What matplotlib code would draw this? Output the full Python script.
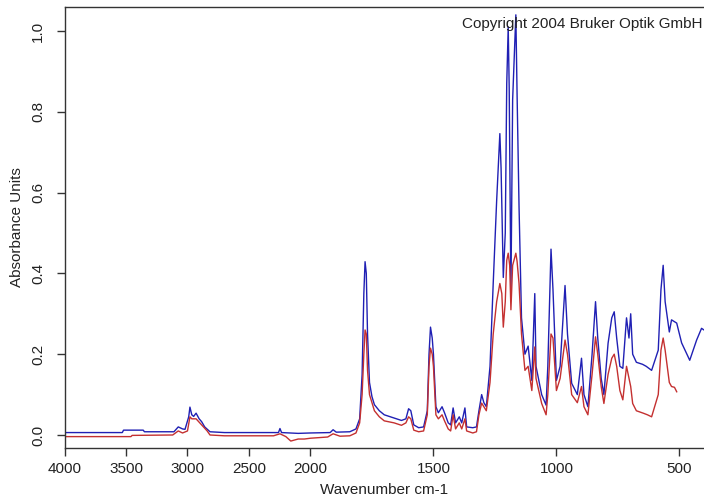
import numpy as np
import matplotlib
matplotlib.use('Agg')
import matplotlib.pyplot as plt

plt.rcParams['font.family'] = ['Liberation Sans', 'DejaVu Sans']

# spectrum 1 (blue), wavenumber cm-1 and absorbance
wn_blue = [4000, 3530, 3520, 3360, 3350, 3110, 3075, 3040, 3020, 2990, 2980,
           2965, 2950, 2930, 2905, 2885, 2860, 2817, 2700, 2500, 2260, 2248,
           2235, 2100, 2000, 1920, 1908, 1895, 1840, 1815, 1800, 1790, 1783,
           1778, 1773, 1768, 1760, 1750, 1740, 1720, 1700, 1660, 1630, 1612,
           1601, 1592, 1580, 1560, 1540, 1525, 1518, 1512, 1505, 1500, 1490,
           1480, 1465, 1455, 1440, 1430, 1420, 1410, 1395, 1385, 1372, 1365,
           1340, 1325, 1315, 1304, 1295, 1285, 1270, 1257, 1243, 1230, 1225,
           1216, 1208, 1202, 1196, 1192, 1185, 1178, 1165, 1160, 1152, 1142,
           1128, 1115, 1100, 1088, 1083, 1060, 1042, 1035, 1022, 1014, 1000,
           985, 965, 955, 938, 915, 898, 888, 872, 855, 841, 832, 818, 807,
           790, 775, 765, 755, 742, 730, 715, 705, 698, 690, 675, 650, 635,
           613, 586, 575, 566, 558, 541, 532, 511, 491, 458, 430, 410, 400]
ab_blue = [0.006, 0.006, 0.012, 0.012, 0.008, 0.008, 0.02, 0.015, 0.014, 0.045,
           0.069, 0.05, 0.046, 0.054, 0.04, 0.033, 0.02, 0.008, 0.006, 0.006,
           0.006, 0.016, 0.006, 0.004, 0.005, 0.006, 0.013, 0.007, 0.008, 0.015,
           0.04, 0.15, 0.35, 0.429, 0.4, 0.25, 0.13, 0.095, 0.075, 0.06, 0.05,
           0.042, 0.036, 0.04, 0.065, 0.06, 0.025, 0.018, 0.02, 0.06, 0.2,
           0.267, 0.24, 0.2, 0.07, 0.055, 0.07, 0.055, 0.03, 0.025, 0.067,
           0.03, 0.045, 0.03, 0.067, 0.02, 0.018, 0.02, 0.06, 0.1, 0.08, 0.07,
           0.17, 0.375, 0.58, 0.746, 0.66, 0.39, 0.5, 0.87, 1.01, 0.86, 0.35,
           0.83, 1.04, 0.845, 0.565, 0.29, 0.2, 0.22, 0.135, 0.35, 0.17, 0.1,
           0.074, 0.17, 0.46, 0.36, 0.135, 0.17, 0.37, 0.25, 0.128, 0.1, 0.19,
           0.1, 0.07, 0.2, 0.33, 0.24, 0.14, 0.1, 0.227, 0.29, 0.305, 0.24,
           0.17, 0.165, 0.29, 0.24, 0.3, 0.2, 0.18, 0.175, 0.17, 0.16, 0.21,
           0.36, 0.42, 0.33, 0.255, 0.285, 0.277, 0.228, 0.185, 0.235, 0.264,
           0.26]

# spectrum 2 (red)
wn_red = [4000, 3460, 3450, 3120, 3075, 3040, 3000, 2980, 2965, 2930, 2885,
          2840, 2817, 2700, 2300, 2248, 2200, 2160, 2100, 2050, 2000, 1930,
          1908, 1880, 1840, 1815, 1800, 1790, 1783, 1778, 1773, 1768, 1760,
          1750, 1740, 1720, 1700, 1660, 1630, 1612, 1601, 1592, 1580, 1560,
          1540, 1525, 1518, 1512, 1505, 1500, 1490, 1480, 1465, 1455, 1440,
          1430, 1420, 1410, 1395, 1385, 1372, 1365, 1340, 1325, 1315, 1304,
          1295, 1285, 1270, 1257, 1243, 1230, 1222, 1216, 1208, 1202, 1196,
          1190, 1185, 1178, 1165, 1160, 1152, 1142, 1128, 1115, 1100, 1088,
          1083, 1060, 1042, 1035, 1022, 1014, 1000, 985, 965, 955, 938, 915,
          898, 888, 872, 855, 841, 832, 818, 807, 790, 775, 765, 755, 742,
          730, 715, 705, 698, 690, 675, 647, 630, 613, 586, 575, 566, 558,
          541, 532, 520, 511]
ab_red = [-0.004, -0.004, -0.001, 0.0, 0.01, 0.005, 0.01, 0.045, 0.04, 0.04,
          0.025, 0.01, 0.0, -0.002, -0.002, 0.003, -0.004, -0.015, -0.01,
          -0.01, -0.008, -0.005, 0.003, -0.003, -0.002, 0.005, 0.03, 0.1, 0.2,
          0.26, 0.25, 0.16, 0.1, 0.08, 0.06, 0.045, 0.035, 0.03, 0.024, 0.03,
          0.045, 0.04, 0.012, 0.008, 0.01, 0.05, 0.17, 0.215, 0.2, 0.17, 0.05,
          0.04, 0.05, 0.035, 0.015, 0.01, 0.05, 0.015, 0.03, 0.015, 0.04, 0.01,
          0.005, 0.008, 0.05, 0.079, 0.07, 0.06, 0.13, 0.25, 0.33, 0.375, 0.35,
          0.267, 0.33, 0.432, 0.45, 0.42, 0.31, 0.42, 0.45, 0.43, 0.375, 0.25,
          0.16, 0.17, 0.11, 0.218, 0.14, 0.078, 0.05, 0.1, 0.25, 0.24, 0.11,
          0.14, 0.235, 0.2, 0.1, 0.08, 0.12, 0.07, 0.05, 0.15, 0.243, 0.2,
          0.12, 0.078, 0.15, 0.19, 0.2, 0.17, 0.11, 0.087, 0.17, 0.14, 0.12,
          0.078, 0.06, 0.054, 0.05, 0.045, 0.1, 0.21, 0.24, 0.21, 0.13, 0.12,
          0.118, 0.107]

xticks = [4000, 3500, 3000, 2500, 2000, 1500, 1000, 500]
yticks = [0.0, 0.2, 0.4, 0.6, 0.8, 1.0]


# x axis is compressed above 2000 cm-1 (half scale)
def fwd(w):
    w = np.asarray(w, dtype=float)
    return np.where(w >= 2000, (w - 2000) / 1000.0, (w - 2000) / 500.0)


def inv(t):
    t = np.asarray(t, dtype=float)
    return np.where(t >= 0, 2000 + 1000.0 * t, 2000 + 500.0 * t)


fig = plt.figure(figsize=(7.04, 5.04), dpi=100)
ax = fig.add_axes([64.5 / 704, 56 / 504, 1 - 64.5 / 704, 441 / 504])
ax.set_xscale('function', functions=(fwd, inv))

ax.plot(wn_blue, ab_blue, color='#2020b4', lw=1.0)
ax.plot(wn_red, ab_red, color='#c43030', lw=1.0)

ax.set_xlim(4000, 400)
ax.set_ylim(-0.0322, 1.0594)
ax.set_xticks(xticks)
ax.set_xticklabels([str(x) for x in xticks])
ax.minorticks_off()
ax.set_yticks(yticks)
ax.set_yticklabels(['%.1f' % y for y in yticks], rotation=90, va='center')

for s in ['left', 'bottom', 'top']:
    ax.spines[s].set_color('#333333')
    ax.spines[s].set_linewidth(1.0)
ax.spines['right'].set_visible(False)
ax.tick_params(direction='out', length=6, width=1, color='#333333',
               labelsize=11, labelcolor='#222222', pad=4)
ax.tick_params(axis='y', pad=8)

ax.set_xlabel('Wavenumber cm-1', fontsize=11, color='#222222', labelpad=5)
ax.set_ylabel('Absorbance Units', fontsize=11, color='#222222', labelpad=5)

fig.text(702 / 704, 1 - 24 / 504, 'Copyright 2004 Bruker Optik GmbH',
         ha='right', va='center', fontsize=11, color='#222222')

fig.savefig('out.png', dpi=100)
